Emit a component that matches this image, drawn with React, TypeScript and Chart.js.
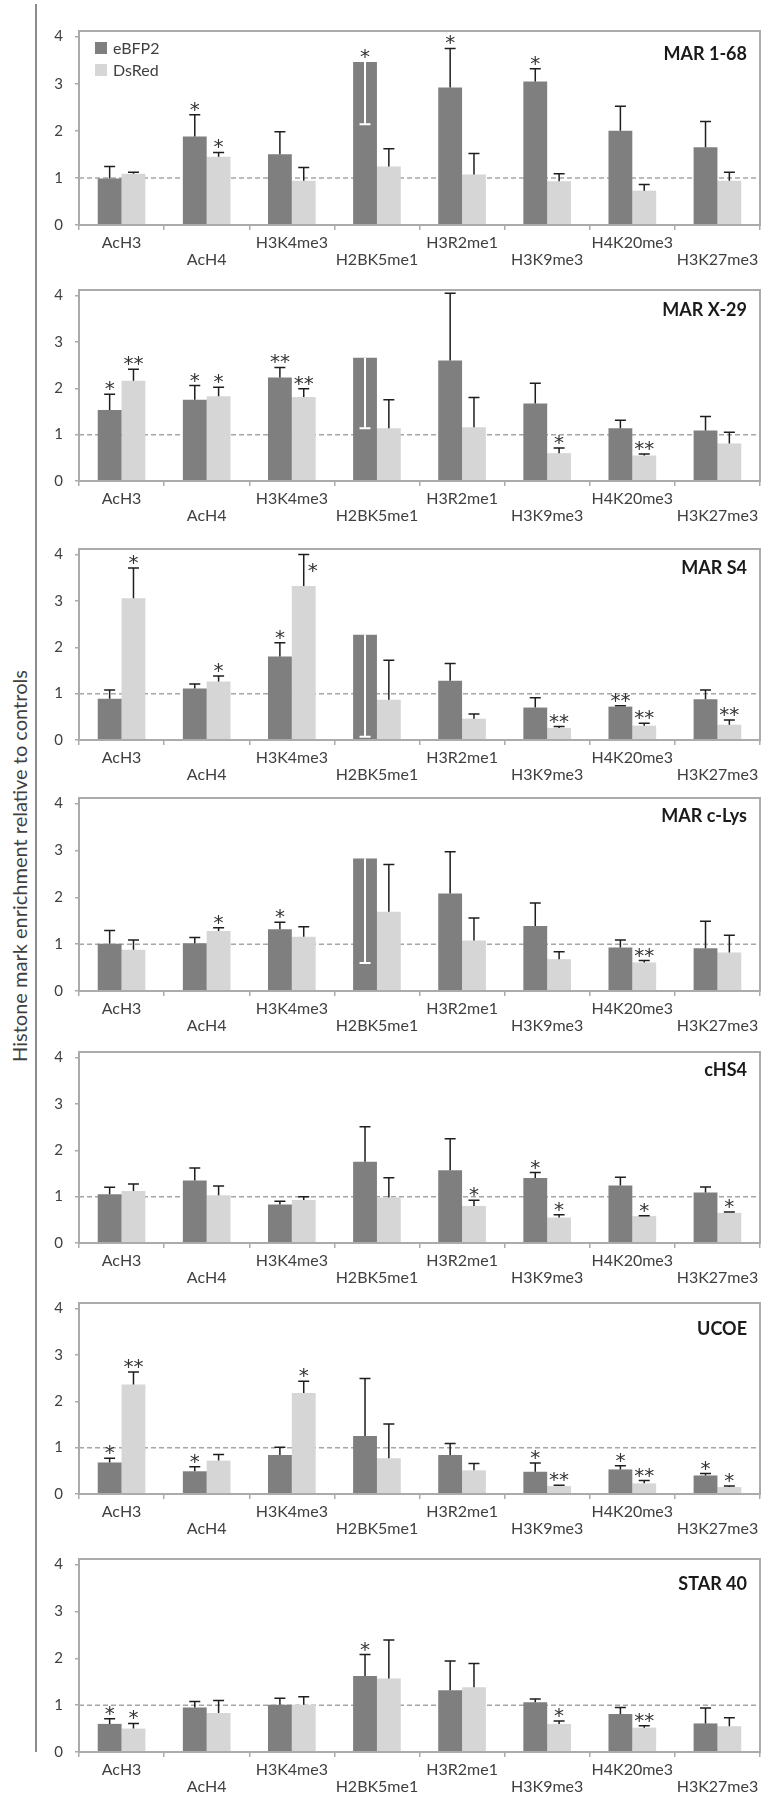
import React, { useEffect, useRef } from "react";
import { Chart, registerables } from "chart.js";

Chart.register(...registerables);

// ---------- data ----------
const categories = ["AcH3", "AcH4", "H3K4me3", "H2BK5me1", "H3R2me1", "H3K9me3", "H4K20me3", "H3K27me3"];
const seriesNames = ["eBFP2", "DsRed"];
const yTickValues = [0, 1, 2, 3, 4];
const yAxisTitle = "Histone mark enrichment relative to controls";
const panelTitles = ["MAR 1-68", "MAR X-29", "MAR S4", "MAR c-Lys", "cHS4", "UCOE", "STAR 40"];

// negative error = error bar drawn downward (white) inside the bar
const mar168Blue = [0.99, 1.88, 1.5, 3.46, 2.92, 3.05, 2.0, 1.65];
const mar168BlueErr = [0.25, 0.46, 0.48, -1.32, 0.83, 0.27, 0.52, 0.55];
const mar168BlueSig = ["", "*", "", "*", "*", "*", "", ""];
const mar168Red = [1.09, 1.45, 0.94, 1.24, 1.07, 0.93, 0.73, 0.94];
const mar168RedErr = [0.03, 0.09, 0.28, 0.38, 0.45, 0.16, 0.13, 0.18];
const mar168RedSig = ["", "*", "", "", "", "", "", ""];

const marX29Blue = [1.53, 1.75, 2.23, 2.66, 2.6, 1.67, 1.14, 1.09];
const marX29BlueErr = [0.34, 0.31, 0.22, -1.52, 1.45, 0.44, 0.17, 0.3];
const marX29BlueSig = ["*", "*", "**", "", "", "", "", ""];
const marX29Red = [2.16, 1.83, 1.81, 1.14, 1.16, 0.6, 0.55, 0.81];
const marX29RedErr = [0.25, 0.19, 0.18, 0.61, 0.64, 0.11, 0.03, 0.24];
const marX29RedSig = ["**", "*", "**", "", "", "*", "**", ""];

const marS4Blue = [0.89, 1.11, 1.8, 2.27, 1.28, 0.7, 0.72, 0.88];
const marS4BlueErr = [0.19, 0.1, 0.3, -2.2, 0.37, 0.21, 0.02, 0.2];
const marS4BlueSig = ["", "", "*", "", "", "", "**", ""];
const marS4Red = [3.06, 1.26, 3.32, 0.87, 0.46, 0.26, 0.31, 0.33];
const marS4RedErr = [0.65, 0.12, 0.68, 0.85, 0.1, 0.03, 0.05, 0.1];
const marS4RedSig = ["*", "*", "*", "", "", "**", "**", "**"];

const marCLysBlue = [1.01, 1.02, 1.32, 2.83, 2.08, 1.39, 0.93, 0.91];
const marCLysBlueErr = [0.28, 0.12, 0.15, -2.23, 0.89, 0.49, 0.16, 0.58];
const marCLysBlueSig = ["", "", "*", "", "", "", "", ""];
const marCLysRed = [0.88, 1.28, 1.16, 1.69, 1.08, 0.68, 0.61, 0.82];
const marCLysRedErr = [0.21, 0.07, 0.21, 1.01, 0.48, 0.16, 0.04, 0.37];
const marCLysRedSig = ["", "*", "", "", "", "", "**", ""];

const chs4Blue = [1.05, 1.35, 0.83, 1.75, 1.57, 1.4, 1.24, 1.09];
const chs4BlueErr = [0.15, 0.27, 0.07, 0.76, 0.68, 0.12, 0.18, 0.12];
const chs4BlueSig = ["", "", "", "", "", "*", "", ""];
const chs4Red = [1.12, 1.03, 0.93, 0.98, 0.8, 0.55, 0.58, 0.65];
const chs4RedErr = [0.15, 0.2, 0.07, 0.43, 0.12, 0.06, 0.01, 0.02];
const chs4RedSig = ["", "", "", "", "*", "*", "*", "*"];

const ucoeBlue = [0.68, 0.49, 0.84, 1.25, 0.84, 0.48, 0.53, 0.4];
const ucoeBlueErr = [0.09, 0.1, 0.17, 1.24, 0.25, 0.19, 0.08, 0.04];
const ucoeBlueSig = ["*", "*", "", "", "", "*", "*", "*"];
const ucoeRed = [2.36, 0.72, 2.18, 0.77, 0.51, 0.17, 0.23, 0.15];
const ucoeRedErr = [0.27, 0.13, 0.25, 0.74, 0.15, 0.02, 0.06, 0.02];
const ucoeRedSig = ["**", "", "*", "", "", "**", "**", "*"];

const star40Blue = [0.6, 0.95, 1.01, 1.62, 1.32, 1.06, 0.81, 0.61];
const star40BlueErr = [0.11, 0.13, 0.14, 0.46, 0.62, 0.07, 0.14, 0.33];
const star40BlueSig = ["*", "", "", "*", "", "", "", ""];
const star40Red = [0.5, 0.83, 1.01, 1.57, 1.38, 0.6, 0.52, 0.55];
const star40RedErr = [0.11, 0.27, 0.17, 0.82, 0.51, 0.06, 0.04, 0.18];
const star40RedSig = ["*", "", "", "", "", "*", "**", ""];

const panelData = [
  [mar168Blue, mar168BlueErr, mar168BlueSig, mar168Red, mar168RedErr, mar168RedSig],
  [marX29Blue, marX29BlueErr, marX29BlueSig, marX29Red, marX29RedErr, marX29RedSig],
  [marS4Blue, marS4BlueErr, marS4BlueSig, marS4Red, marS4RedErr, marS4RedSig],
  [marCLysBlue, marCLysBlueErr, marCLysBlueSig, marCLysRed, marCLysRedErr, marCLysRedSig],
  [chs4Blue, chs4BlueErr, chs4BlueSig, chs4Red, chs4RedErr, chs4RedSig],
  [ucoeBlue, ucoeBlueErr, ucoeBlueSig, ucoeRed, ucoeRedErr, ucoeRedSig],
  [star40Blue, star40BlueErr, star40BlueSig, star40Red, star40RedErr, star40RedSig],
];

// ---------- layout / style ----------
const panelLayout = [
  { top: 18, zero: 225, titleDy: 23 },
  { top: 277, zero: 481, titleDy: 20 },
  { top: 536, zero: 740, titleDy: 19 },
  { top: 785, zero: 991, titleDy: 18 },
  { top: 1039, zero: 1243, titleDy: 18 },
  { top: 1290, zero: 1494, titleDy: 26 },
  { top: 1546, zero: 1752, titleDy: 25 },
];
const FONT = 'Lato, "Open Sans", "DejaVu Sans", sans-serif';
const STAR_FONT = '"DejaVu Sans", sans-serif';
const DARK = "#7f7f7f";
const LIGHT = "#d6d6d6";
const AXIS = "#ababab";
const TEXT = "#404040";
const ERR = "#1e1e1e";
const Y_MAX = 4.12;
const PAD_TOP = 8;
const X_AXIS_H = 46;

const tickLabels = categories.map((c, i) => (i % 2 === 1 ? ["", c] : c));

const decorPlugin = {
  id: "decor",
  beforeDatasetsDraw(chart: any) {
    const { ctx, chartArea: a, scales } = chart;
    const yy = scales.y.getPixelForValue(1);
    ctx.save();
    ctx.strokeStyle = "#a6a6a6";
    ctx.lineWidth = 1.5;
    ctx.setLineDash([5, 3]);
    ctx.beginPath();
    ctx.moveTo(a.left, yy);
    ctx.lineTo(a.right, yy);
    ctx.stroke();
    ctx.restore();
  },
  afterDatasetsDraw(chart: any, _args: any, opts: any) {
    const { ctx, chartArea: a, scales } = chart;
    const y = scales.y;
    chart.data.datasets.forEach((ds: any, di: number) => {
      const meta = chart.getDatasetMeta(di);
      meta.data.forEach((bar: any, j: number) => {
        const v = ds.data[j];
        const e = ds.errs[j];
        const x = bar.x;
        const y0 = y.getPixelForValue(v);
        const y1 = y.getPixelForValue(v + e);
        ctx.save();
        ctx.strokeStyle = e < 0 ? "#ffffff" : ERR;
        ctx.lineWidth = e < 0 ? 2 : 1.5;
        ctx.beginPath();
        ctx.moveTo(x, y0);
        ctx.lineTo(x, y1);
        ctx.moveTo(x - 5.5, y1);
        ctx.lineTo(x + 5.5, y1);
        ctx.stroke();
        const s = ds.sig[j];
        if (s) {
          const topPix = Math.min(y0, y1);
          let sx = x;
          let base = topPix + 1;
          if (topPix - 11 < a.top) {
            sx = x + 9;
            base = topPix + 22;
          }
          ctx.fillStyle = "#333333";
          ctx.font = `20px ${STAR_FONT}`;
          ctx.textAlign = "center";
          ctx.textBaseline = "alphabetic";
          const n = s.length;
          for (let k = 0; k < n; k++) {
            ctx.fillText("*", sx + (k - (n - 1) / 2) * 10, base);
          }
        }
        ctx.restore();
      });
    });
    // plot border
    ctx.save();
    ctx.strokeStyle = AXIS;
    ctx.lineWidth = 2;
    ctx.strokeRect(a.left, a.top, a.right - a.left, a.bottom - a.top);
    // title
    ctx.fillStyle = "#1a1a1a";
    ctx.font = `bold 18px ${FONT}`;
    ctx.textAlign = "right";
    ctx.textBaseline = "middle";
    ctx.fillText(opts.title, 747, a.top + opts.titleDy);
    // legend
    if (opts.legend) {
      const items = [
        { label: seriesNames[0], color: DARK },
        { label: seriesNames[1], color: LIGHT },
      ];
      items.forEach((it, i) => {
        const cy = a.top + 17 + i * 22;
        ctx.fillStyle = it.color;
        ctx.fillRect(95, cy - 6, 12, 12);
        ctx.fillStyle = TEXT;
        ctx.font = `16px ${FONT}`;
        ctx.textAlign = "left";
        ctx.textBaseline = "middle";
        ctx.fillText(it.label, 113, cy + 1);
      });
    }
    ctx.restore();
  },
};

function Panel({ index }: { index: number }) {
  const ref = useRef<HTMLCanvasElement | null>(null);
  const lay = panelLayout[index];
  const height = lay.zero - lay.top + PAD_TOP + X_AXIS_H;
  useEffect(() => {
    const canvas = ref.current;
    if (!canvas) return;
    const [blue, blueErr, blueSig, red, redErr, redSig] = panelData[index] as any[];
    const chart = new Chart(canvas, {
      type: "bar",
      data: {
        labels: tickLabels as any,
        datasets: [
          { label: seriesNames[0], data: blue, backgroundColor: DARK, errs: blueErr, sig: blueSig } as any,
          { label: seriesNames[1], data: red, backgroundColor: LIGHT, errs: redErr, sig: redSig } as any,
        ],
      },
      options: {
        animation: false,
        responsive: false,
        maintainAspectRatio: false,
        events: [],
        layout: { padding: { top: PAD_TOP, left: 0, right: 9, bottom: 0 } },
        datasets: { bar: { categoryPercentage: 0.56, barPercentage: 1 } },
        plugins: {
          legend: { display: false },
          tooltip: { enabled: false },
          decor: { title: panelTitles[index], titleDy: lay.titleDy, legend: index === 0 },
        } as any,
        scales: {
          x: {
            grid: { offset: true, drawOnChartArea: false, drawTicks: true, tickLength: 5, color: AXIS, lineWidth: 1.5 },
            border: { display: false },
            ticks: {
              autoSkip: false,
              maxRotation: 0,
              minRotation: 0,
              padding: 4,
              color: TEXT,
              font: { family: FONT, size: 16, lineHeight: "17px" },
            },
            afterFit: (s: any) => {
              s.height = X_AXIS_H;
            },
          },
          y: {
            min: 0,
            max: Y_MAX,
            afterBuildTicks: (s: any) => {
              s.ticks = yTickValues.map((v) => ({ value: v }));
            },
            grid: { drawOnChartArea: false, drawTicks: true, tickLength: 4, color: AXIS, lineWidth: 1.5 },
            border: { display: false },
            ticks: { padding: 12, color: TEXT, font: { family: FONT, size: 15 } },
            afterFit: (s: any) => {
              s.width = 79;
            },
          },
        },
      } as any,
      plugins: [decorPlugin as any],
    });
    return () => chart.destroy();
  }, [index]);
  return (
    <canvas
      ref={ref}
      width={769}
      height={height}
      style={{ position: "absolute", left: 0, top: lay.top - PAD_TOP, width: 769, height }}
    />
  );
}

export default function App() {
  return (
    <div style={{ position: "absolute", left: 0, top: 0, width: 769, height: 1800, background: "#ffffff", overflow: "hidden" }}>
      <div style={{ position: "absolute", left: 35, top: 4, width: 2, height: 1748, background: "#8c8c8c" }} />
      <div
        style={{
          position: "absolute",
          left: 19 - 300,
          top: 866 - 14,
          width: 600,
          height: 28,
          lineHeight: "28px",
          textAlign: "center",
          transform: "rotate(-90deg)",
          transformOrigin: "50% 50%",
          fontFamily: FONT,
          fontSize: 20,
          color: TEXT,
          whiteSpace: "nowrap",
        }}
      >
        {yAxisTitle}
      </div>
      {panelLayout.map((_, i) => (
        <Panel key={i} index={i} />
      ))}
    </div>
  );
}
